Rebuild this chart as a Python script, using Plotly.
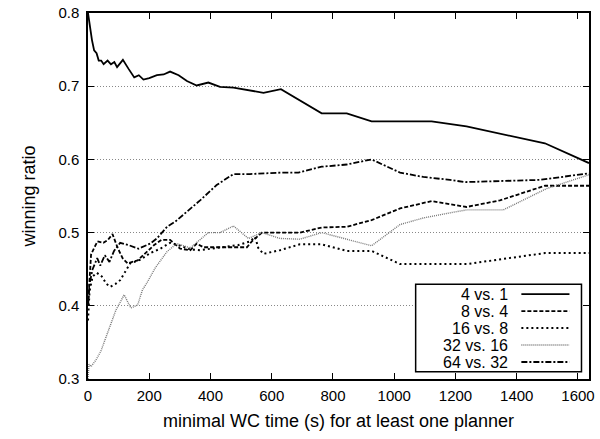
import plotly.graph_objects as go

# ---------------- data ----------------
names = ["4 vs. 1", "8 vs. 4", "16 vs. 8", "32 vs. 16", "64 vs. 32"]

x_4v1 = [0, 3, 6, 13, 20, 28, 35, 43, 51, 64, 75, 86, 95, 114, 132, 151, 166, 181, 200,
         225, 247, 268, 296, 323, 355, 393, 431, 475, 573, 630, 763, 845, 926, 1122,
         1236, 1492, 1636]
y_4v1 = [0.800, 0.790, 0.780, 0.763, 0.749, 0.745, 0.735, 0.735, 0.730, 0.735, 0.730,
         0.733, 0.726, 0.736, 0.724, 0.712, 0.715, 0.709, 0.711, 0.715, 0.716, 0.720,
         0.715, 0.707, 0.701, 0.705, 0.699, 0.698, 0.691, 0.696, 0.663, 0.663, 0.652,
         0.652, 0.645, 0.622, 0.595]

x_8v4 = [0, 5, 10, 20, 31, 50, 65, 80, 97, 113, 129, 162, 189, 216, 240, 268, 301, 334,
         355, 377, 431, 519, 535, 568, 692, 763, 845, 926, 1019, 1122, 1236, 1345, 1492,
         1636]
y_8v4 = [0.400, 0.440, 0.470, 0.479, 0.488, 0.486, 0.490, 0.498, 0.479, 0.465, 0.458,
         0.462, 0.472, 0.483, 0.490, 0.490, 0.478, 0.476, 0.485, 0.480, 0.480, 0.480,
         0.488, 0.500, 0.500, 0.507, 0.508, 0.517, 0.533, 0.543, 0.535, 0.544, 0.564,
         0.564]

x_16v8 = [0, 5, 15, 29, 45, 60, 73, 90, 105, 138, 171, 203, 236, 268, 301, 334, 366, 400,
          450, 491, 529, 546, 556, 573, 627, 692, 763, 845, 926, 1019, 1236, 1492, 1636]
y_16v8 = [0.380, 0.420, 0.440, 0.445, 0.440, 0.430, 0.426, 0.430, 0.435, 0.458, 0.463,
          0.472, 0.478, 0.486, 0.482, 0.477, 0.476, 0.478, 0.480, 0.483, 0.488, 0.494,
          0.479, 0.471, 0.476, 0.484, 0.484, 0.475, 0.475, 0.457, 0.457, 0.472, 0.472]

x_32v16 = [0, 3, 10, 26, 42, 64, 91, 118, 140, 162, 178, 192, 220, 258, 290, 334, 393,
           431, 475, 524, 568, 627, 692, 763, 845, 926, 1019, 1095, 1182, 1236, 1356,
           1497, 1636]
y_32v16 = [0.300, 0.320, 0.317, 0.326, 0.338, 0.363, 0.394, 0.415, 0.397, 0.401, 0.422,
           0.431, 0.452, 0.474, 0.485, 0.479, 0.500, 0.500, 0.509, 0.492, 0.500, 0.492,
           0.491, 0.500, 0.491, 0.482, 0.511, 0.520, 0.527, 0.531, 0.531, 0.560, 0.579]

x_64v32 = [0, 5, 15, 30, 40, 55, 70, 85, 105, 132, 165, 192, 203, 225, 258, 285, 323, 366,
           420, 453, 475, 529, 633, 687, 763, 845, 926, 1019, 1095, 1182, 1231, 1475, 1636]
y_64v32 = [0.400, 0.430, 0.450, 0.465, 0.455, 0.469, 0.460, 0.475, 0.486, 0.483, 0.478,
           0.483, 0.485, 0.492, 0.508, 0.515, 0.528, 0.544, 0.565, 0.574, 0.580, 0.580,
           0.582, 0.582, 0.590, 0.593, 0.600, 0.582, 0.576, 0.572, 0.569, 0.572, 0.581]

xs = [x_4v1, x_8v4, x_16v8, x_32v16, x_64v32]
ys = [y_4v1, y_8v4, y_16v8, y_32v16, y_64v32]

x_ticks = [0, 200, 400, 600, 800, 1000, 1200, 1400, 1600]
y_ticks = [0.3, 0.4, 0.5, 0.6, 0.7, 0.8]

# ---------------- styles ----------------
colors = ["black", "black", "black", "#777777", "black"]
dashes = ["solid", "4px,2px", "2px,3px", "1px,1px", "6px,2px,2px,2px"]
widths = [1.8, 1.8, 2.0, 1.4, 1.8]

FONT = "Liberation Sans, Arial, Helvetica, sans-serif"
FS = 15

fig = go.Figure()
for n, x, y, c, d, w in zip(names, xs, ys, colors, dashes, widths):
    fig.add_trace(go.Scatter(x=x, y=y, mode="lines", name=n,
                             line=dict(color=c, dash=d, width=w), showlegend=False))

fig.update_layout(
    width=600, height=439,
    margin=dict(l=88, r=11, t=13, b=60),
    paper_bgcolor="white", plot_bgcolor="white",
    font=dict(family=FONT, size=FS, color="black"),
)
fig.update_xaxes(
    range=[0, 1636], tickvals=x_ticks, ticks="inside", ticklen=6, tickwidth=1,
    tickcolor="black", showline=True, linecolor="black", linewidth=1.5,
    mirror="allticks", showgrid=False, zeroline=False, automargin=False,
    ticklabelstandoff=2,
    title=dict(text="minimal WC time (s) for at least one planner", standoff=12),
)
fig.update_yaxes(
    range=[0.3, 0.8], tickvals=y_ticks, tickformat=".1f", ticks="inside", ticklen=6,
    tickwidth=1, tickcolor="black", showline=True, linecolor="black", linewidth=1.5,
    mirror="allticks", showgrid=True, gridcolor="#888888", griddash="1px,2px",
    gridwidth=1, zeroline=False, automargin=False, ticklabelstandoff=4,
    title=dict(text="winning ratio", standoff=18),
)

# ---------------- custom legend (text left, sample right) ----------------
box = dict(x0=0.654, x1=0.985, y0=0.02, y1=0.259)
fig.add_shape(type="rect", xref="paper", yref="paper", **box,
              fillcolor="white", line=dict(color="black", width=1.5), layer="above")
row_px = [294, 311, 328, 345, 362]
for n, c, d, w, py in zip(names, colors, dashes, widths, row_px):
    yp = (379 - py) / 366.3
    fig.add_annotation(xref="paper", yref="paper", x=0.843, y=yp, text=n,
                       showarrow=False, xanchor="right", yanchor="middle",
                       font=dict(family=FONT, size=FS + 1, color="black"))
    fig.add_shape(type="line", xref="paper", yref="paper", x0=0.865, x1=0.961,
                  y0=yp, y1=yp, line=dict(color=c, dash=d, width=w), layer="above")

fig.write_html("out.html",
               config={"displayModeBar": False},
               post_script="document.body.style.margin='0px';"
                           "document.body.style.overflow='hidden';")
